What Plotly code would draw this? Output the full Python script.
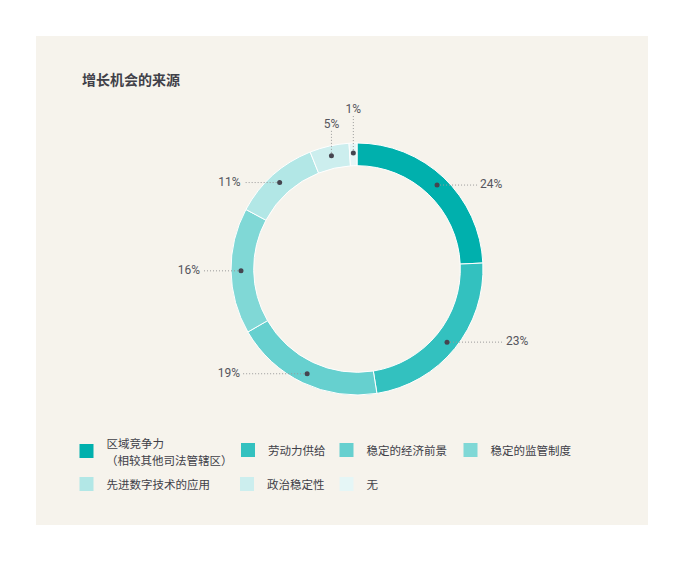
import math
import plotly.graph_objects as go

# ---- data ----
categories = ["区域竞争力", "劳动力供给", "稳定的经济前景",
              "稳定的监管制度", "先进数字技术的应用", "政治稳定性", "无"]
category_notes = ["（相较其他司法管辖区）", "", "", "", "", "", ""]
values = [24, 23, 19, 16, 11, 5, 1]
pct_labels = [f"{v}%" for v in values]
title_text = "增长机会的来源"

# ---- style / layout (all px values are screenshot coordinates) ----
colors = ["#00b0ad", "#33c1bf", "#66d0cf", "#80d8d6", "#b2e7e6", "#cceeee", "#e5f6f6"]
W, H = 684, 562
S = 8                                     # page body offset
PANEL = (36, 36, 648, 525)               # left, top, right, bottom (screen px)
ML, MT = PANEL[0] - S, PANEL[1] - S
MR, MB = W - (PANEL[2] - S), H - (PANEL[3] - S)
PW, PH = PANEL[2] - PANEL[0], PANEL[3] - PANEL[1]
CX, CY, R = 357, 269, 126                # donut centre / outer radius (px)
HOLE = 0.82
R_DOT = 116
DOT_R = 2.5
leader_len = [40, 56, 64, 38, 36, 26, 38]
legend_pos = [(86.5, 451), (248, 450), (346.5, 450), (470.5, 450),
              (86.5, 484), (247, 484), (346.5, 484)]   # square centres (px)
NOTE_DY = 16                              # second legend line spacing
text_color = "#404048"
LEG_FONT = dict(family="Noto Sans CJK SC", size=11.5, color=text_color)


def px_to_paper(x, y):
    return (x - PANEL[0]) / PW, (PANEL[3] - y) / PH


fig = go.Figure()

x0, y0 = px_to_paper(CX - R, CY + R)
x1, y1 = px_to_paper(CX + R, CY - R)
fig.add_trace(go.Pie(
    labels=categories, values=values, hole=HOLE, sort=False,
    direction="clockwise", rotation=0, textinfo="none", hoverinfo="label+percent",
    marker=dict(colors=colors, line=dict(color="#ffffff", width=1)),
    domain=dict(x=[x0, x1], y=[y0, y1]), showlegend=False,
))

# leader lines, dots and % labels computed from the values
total = sum(values)
cum = 0
shapes = []
tx, ty, tpos = [], [], []
for v, L in zip(values, leader_len):
    theta = math.radians((cum + v / 2) / total * 360)
    cum += v
    dx, dy = math.sin(theta), -math.cos(theta)
    px, py = CX + R_DOT * dx, CY + R_DOT * dy
    if abs(dx) < 0.3 and dy < 0:          # near the top: vertical leader
        ex, ey = px, py - L
        tx.append(ex); ty.append(ey + 1); tpos.append("top center")
    elif dx > 0:
        ex, ey = px + L, py
        tx.append(ex + 3); ty.append(ey); tpos.append("middle right")
    else:
        ex, ey = px - L, py
        tx.append(ex - 3); ty.append(ey); tpos.append("middle left")
    shapes.append(dict(type="line", xref="x", yref="y", x0=px, y0=py, x1=ex, y1=ey,
                       layer="above", line=dict(color="#9a9a9a", width=1, dash="1px,2px")))
    shapes.append(dict(type="circle", xref="x", yref="y", layer="above",
                       x0=px - DOT_R, x1=px + DOT_R, y0=py - DOT_R, y1=py + DOT_R,
                       fillcolor="#45454f", line=dict(width=0)))

fig.add_trace(go.Scatter(x=tx, y=ty, mode="text", text=pct_labels, textposition=tpos,
                         hoverinfo="skip", showlegend=False,
                         textfont=dict(family="Roboto, Noto Sans", size=12, color="#55555c")))

# legend entries (one legend per slot, to reproduce the irregular grid)
legend_layouts = {}
annotations = []
for i, (cat, note, col) in enumerate(zip(categories, category_notes, colors)):
    name = "legend" if i == 0 else f"legend{i + 1}"
    sx, sy = legend_pos[i]
    label = cat
    if note:
        label = cat + "<br> "
        annotations.append(dict(
            text=note, xref="x", yref="y", x=sx + 17, y=sy + NOTE_DY / 2 + 1,
            xanchor="left", yanchor="middle", showarrow=False, font=LEG_FONT))
    fig.add_trace(go.Scatter(x=[None], y=[None], mode="markers", name=label,
                             marker=dict(symbol="square", size=14, color=col),
                             legend=name, showlegend=True))
    lxp, lyp = px_to_paper(sx - 20, sy)
    legend_layouts[name] = dict(
        x=lxp, y=lyp, xanchor="left", yanchor="middle", bgcolor="rgba(0,0,0,0)",
        borderwidth=0, itemclick=False, itemdoubleclick=False, font=LEG_FONT,
    )

fig.update_layout(
    width=W, height=H,
    margin=dict(l=ML, r=MR, t=MT, b=MB, pad=0),
    paper_bgcolor="#ffffff", plot_bgcolor="#f6f3ec",
    xaxis=dict(range=[PANEL[0], PANEL[2]], visible=False, fixedrange=True),
    yaxis=dict(range=[PANEL[3], PANEL[1]], visible=False, fixedrange=True),
    shapes=shapes,
    annotations=annotations,
    title=dict(text=f"<b>{title_text}</b>", x=(82 - S) / W, xref="container", xanchor="left",
               y=1 - (80 - S) / H, yref="container", yanchor="middle",
               font=dict(family="Noto Sans CJK SC", size=14, color=text_color)),
    **legend_layouts,
)

fig.write_html("out.html")
